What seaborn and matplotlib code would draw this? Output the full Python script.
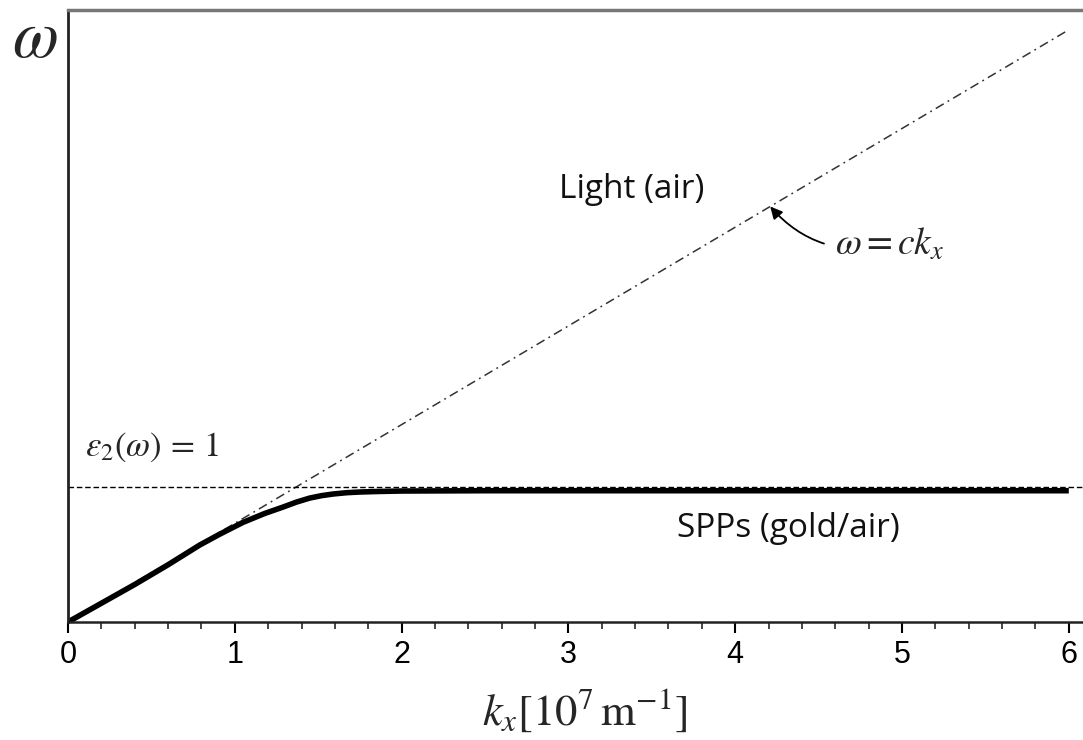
import numpy as np
import pandas as pd
import matplotlib
matplotlib.use("Agg")
import matplotlib.pyplot as plt
import seaborn as sns
from matplotlib.ticker import MultipleLocator
from matplotlib import font_manager

# ---- data ----
spp_k = [0, 0.2, 0.4, 0.6, 0.79, 0.91, 1.05, 1.18, 1.29, 1.37, 1.45, 1.52, 1.59, 1.67, 1.75, 1.85, 2.0, 2.5, 3.0, 4.0, 5.0, 6.0]
spp_w = [0, 0.19, 0.38, 0.58, 0.78, 0.89, 1.01, 1.10, 1.165, 1.215, 1.256, 1.28, 1.297, 1.31, 1.317, 1.322, 1.327, 1.33, 1.33, 1.33, 1.33, 1.33]
light_k = [0, 6]
light_w = [0, 6]
eps_level = 1.365
xticks = [0, 1, 2, 3, 4, 5, 6]

sns.set_theme(style="ticks")
names = {f.name for f in font_manager.fontManager.ttflist}
tick_family = "Liberation Sans Narrow" if "Liberation Sans Narrow" in names else "Liberation Sans"
plt.rcParams['font.family'] = ['Liberation Sans', 'DejaVu Sans']
plt.rcParams['mathtext.fontset'] = 'stix'

fig = plt.figure(figsize=(10.83, 7.40), dpi=100)
ax = fig.add_axes([68/1083, 118/740, 1 - 68/1083, 612/740])

spp = pd.DataFrame({"k": spp_k, "w": spp_w})
light = pd.DataFrame({"k": light_k, "w": light_w})

sns.lineplot(data=light, x="k", y="w", ax=ax, color="#333333", lw=1.1,
             linestyle=(0, (6, 3, 1.2, 3)), sort=False, estimator=None)
ax.axhline(eps_level, color="black", lw=1.0, linestyle=(0, (4, 2)))
sns.lineplot(data=spp, x="k", y="w", ax=ax, color="black", lw=4,
             sort=False, estimator=None, solid_capstyle="butt")

ax.set_xlim(0, 1015/166.8)
ax.set_ylim(0, 612/98.7)
ax.set_xticks(xticks)
ax.xaxis.set_minor_locator(MultipleLocator(0.2))
ax.set_yticks([])
ax.tick_params(axis="x", which="major", length=8, width=1.5, direction="out",
               labelsize=22, colors="black", pad=5)
ax.tick_params(axis="x", which="minor", length=5, width=1.2, direction="out")
for lab in ax.get_xticklabels():
    lab.set_family(tick_family)
ax.spines["right"].set_visible(False)
ax.spines["left"].set_linewidth(2)
ax.spines["left"].set_color("#222222")
ax.spines["bottom"].set_linewidth(1.8)
ax.spines["bottom"].set_color("#222222")
ax.spines["top"].set_linewidth(2.5)
ax.spines["top"].set_color("#777777")
ax.set_xlabel("")
ax.set_ylabel("")

ax.text(3.38, 4.38, "Light (air)", fontsize=24, ha="center", va="center",
        family=["Open Sans", "DejaVu Sans"], color="#111111")
ax.text(4.32, 0.95, "SPPs (gold/air)", fontsize=24, ha="center", va="center",
        family=["Open Sans", "DejaVu Sans"], color="#111111")
ax.text(0.10, 1.77, r"$\varepsilon_2(\omega)\,=\,1$", fontsize=25, ha="left", va="center")
ax.annotate(r"$\omega = ck_x$", xy=(4.21, 4.21), xytext=(4.60, 3.82),
            fontsize=27, ha="left", va="center",
            arrowprops=dict(arrowstyle="-|>", color="black", lw=1.3,
                            shrinkA=6, shrinkB=0, mutation_scale=18,
                            connectionstyle="arc3,rad=-0.3"))

fig.text(35/1083, 1 - 40/740, r"$\omega$", fontsize=48, ha="center", va="center")
fig.text(585/1083, 1 - 710/740, r"$k_x[10^7\,\mathrm{m}^{-1}]$", fontsize=32,
         ha="center", va="center")

fig.savefig("out.png", dpi=100)
